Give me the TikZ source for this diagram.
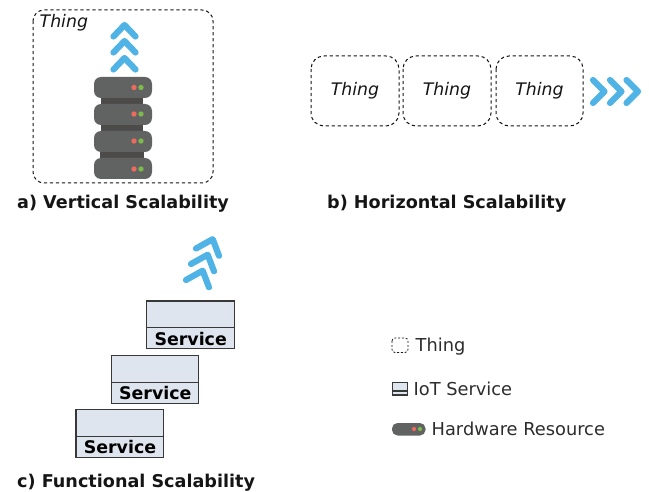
\documentclass[tikz,border=0pt]{standalone}
\usepackage{fontspec}
\setmainfont{DejaVu Sans}
\definecolor{chev}{HTML}{4FB3E6}
\definecolor{unit}{HTML}{616362}
\definecolor{link}{HTML}{4D4A4A}
\definecolor{ledr}{HTML}{EE6A5F}
\definecolor{ledg}{HTML}{7DB94B}
\definecolor{svc}{HTML}{DFE5EE}
\definecolor{ink}{HTML}{151515}
\tikzset{
  thingbox/.style={draw=ink,dash pattern=on 3.2pt off 2.8pt,line width=1pt,rounded corners=#1},
  chevron/.style={draw=chev,line width=6.2pt,line cap=round,line join=round},
  srvunit/.style={fill=unit,rounded corners=7pt},
  srvlink/.style={fill=link},
  svcbox/.style={draw=ink!85,fill=svc,line width=1.1pt},
  lbl/.style={anchor=base west,inner sep=0pt,font=\fontsize{17.6}{20}\selectfont\bfseries,text=ink},
  svclbl/.style={anchor=base,inner sep=0pt,font=\fontsize{17.4}{20}\selectfont\bfseries,text=black},
  thinglbl/.style={anchor=base,inner sep=0pt,font=\fontsize{17.3}{20}\selectfont\itshape,text=ink},
  leg/.style={anchor=base west,inner sep=0pt,font=\fontsize{17.8}{20}\selectfont,text=ink!90!white},
}
\newcommand{\srvleds}[3]{\fill[ledr] (#1,#3) circle (2.7);\fill[ledg] (#2,#3) circle (2.7);}
\begin{document}
\begin{tikzpicture}[x=1pt,y=-1pt]
\useasboundingbox (0,0) rectangle (649,492);
% a) vertical
\draw[thingbox=11pt] (33,10) rectangle (213,183);
\node[thinglbl,anchor=base west] (t0) at (39.5,27.5) {Thing};
\foreach \y in {25,41,58}{\draw[chevron] (113.5,\y+11.5) -- (124.5,\y) -- (135.5,\y+11.5);}
\fill[srvlink] (101,96) rectangle (143,106);
\fill[srvlink] (101,123) rectangle (143,133);
\fill[srvlink] (100,150) rectangle (144,160);
\foreach \y in {77,104,131,158}{\fill[srvunit] (94,\y) rectangle (152,\y+21);}
\srvleds{134}{141}{87.5}\srvleds{134}{141}{114}\srvleds{134}{141}{141}\srvleds{134}{141}{169}
\node[lbl] (la) at (17,209) {a) Vertical Scalability};
% b) horizontal
\draw[thingbox=13pt] (311,56) rectangle (399,126);
\draw[thingbox=13pt] (403,56) rectangle (491,126);
\draw[thingbox=13pt] (496,56) rectangle (583,126);
\node[thinglbl] (t1) at (355,96) {Thing};
\node[thinglbl] (t2) at (447,96) {Thing};
\node[thinglbl] (t3) at (539.5,96) {Thing};
\foreach \x in {604.5,621.5,638}{\draw[chevron] (\x-11.5,80) -- (\x,91.5) -- (\x-11.5,103);}
\node[lbl] (lb) at (327,209) {b) Horizontal Scalability};
% c) functional
\foreach \d/\e in {0/0,5/-16,10/-31.5}{\draw[chevron] (186+\d,280+\e) -- (202.7+\d,270.7+\e) -- (209+\d,287.3+\e);}
\foreach \x/\y/\n in {146.7/301/s1,111.3/355.5/s2,76/409.7/s3}{
  \draw[svcbox] (\x,\y) rectangle (\x+87.5,\y+47.7);
  \draw[ink!85,line width=1.1pt] (\x,\y+26.7) -- (\x+87.5,\y+26.7);
  \node[svclbl] (\n) at (\x+44,\y+44) {Service};
}
\node[lbl] (lc) at (17,487) {c) Functional Scalability};
% legend
\draw[thingbox=3pt,dash pattern=on 2pt off 1.8pt,line width=.8pt] (392,338) rectangle (408,352.5);
\node[leg] (l1) at (415.5,352) {Thing};
\draw[svcbox] (392.5,382.5) rectangle (407.5,395);
\draw[ink!85,line width=1.1pt] (392.5,391) -- (407.5,391);
\node[leg] (l2) at (413.5,395.5) {IoT Service};
\fill[srvunit,rounded corners=5.5pt] (392,423) rectangle (425.5,435.5);
\fill[ledr] (414,429) circle (2.1);\fill[ledg] (420,429) circle (2.1);
\node[leg] (l3) at (431.5,435) {Hardware Resource};
\end{tikzpicture}
\end{document}
